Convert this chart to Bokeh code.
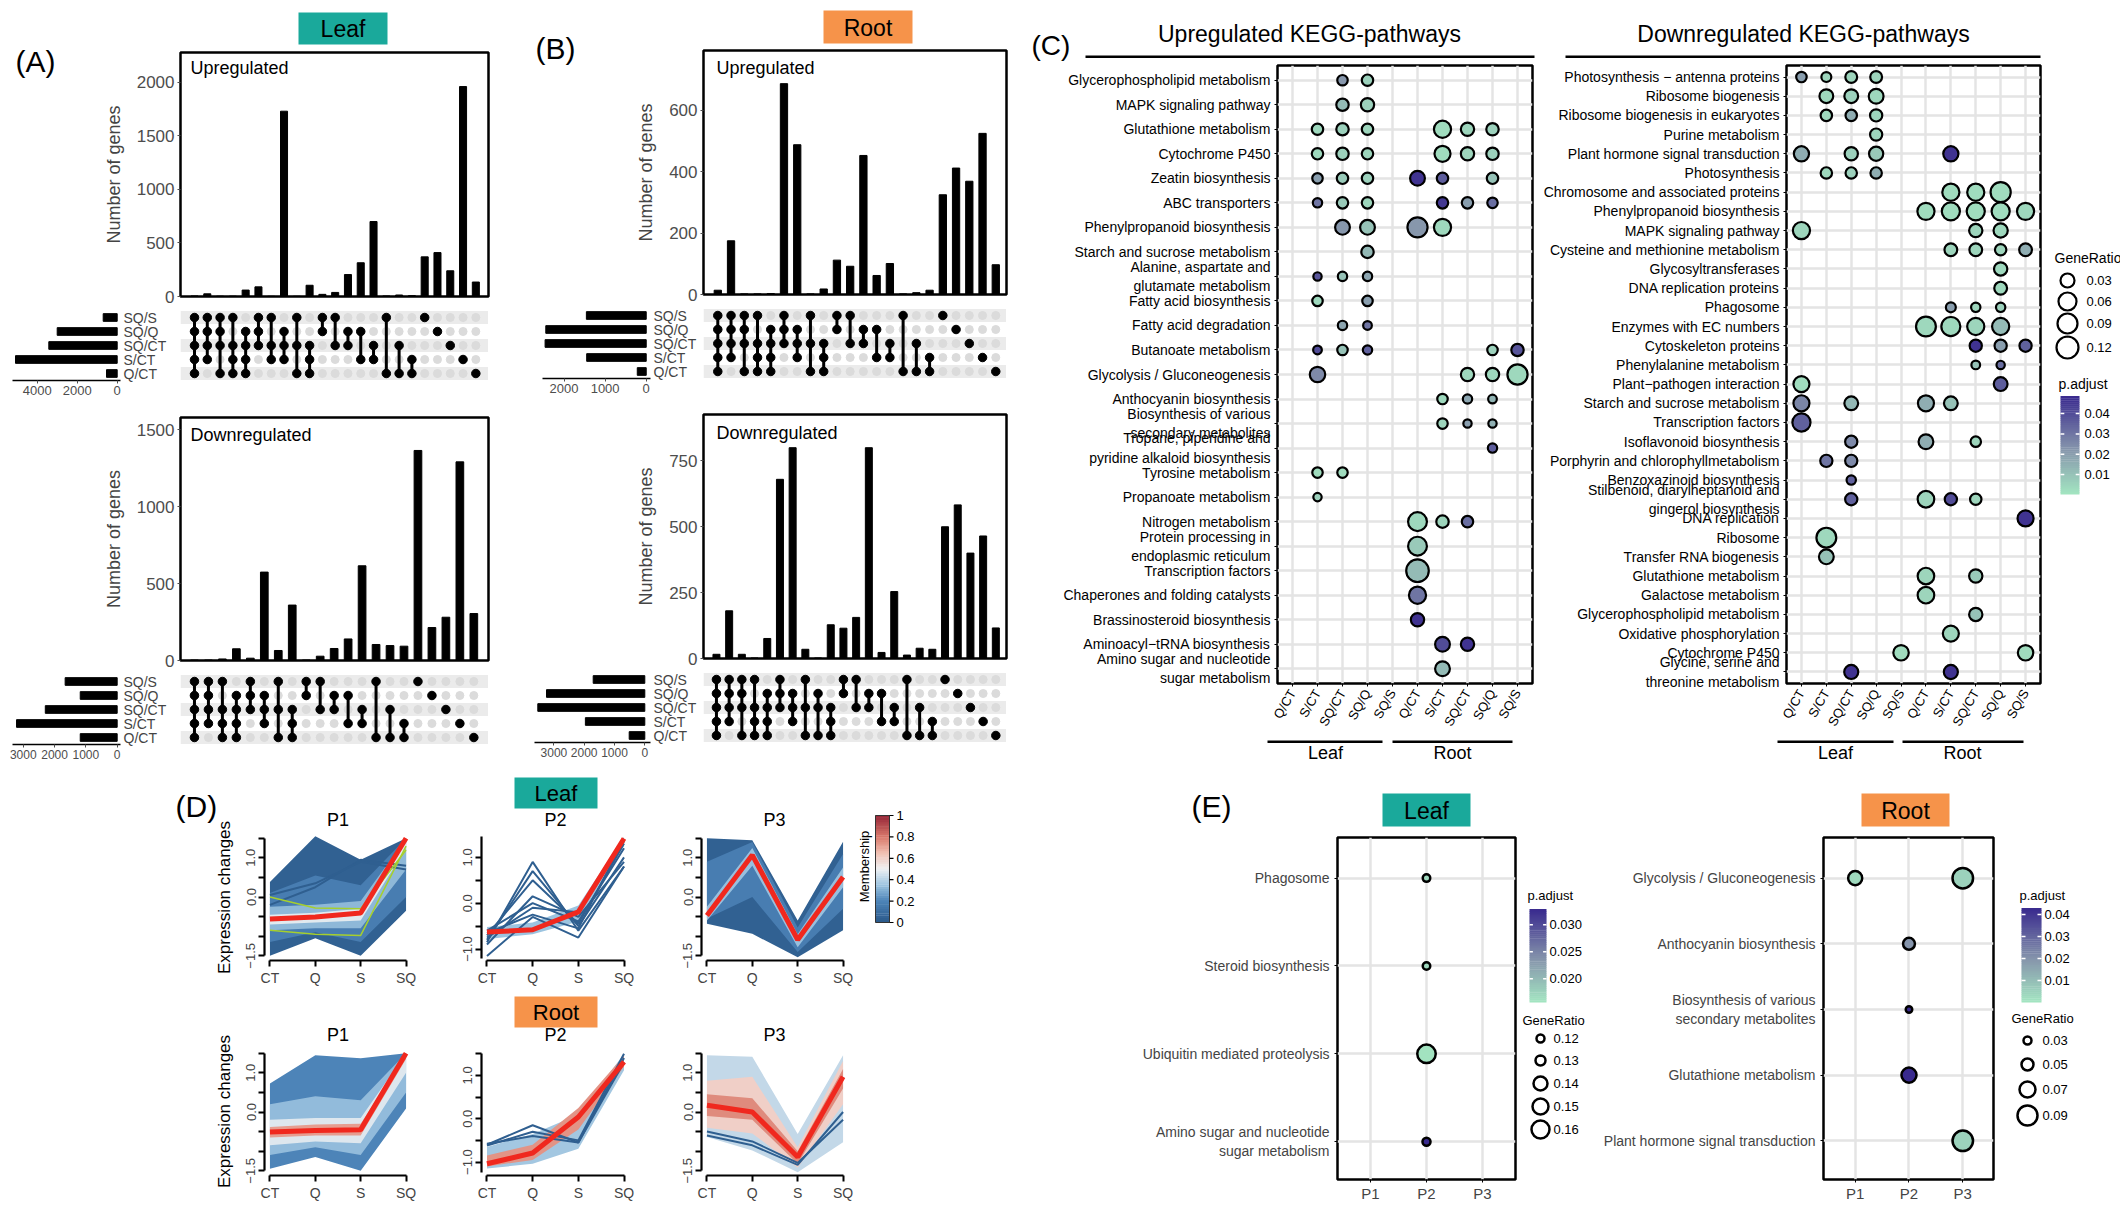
import math
import numpy as np
from bokeh.plotting import figure
from bokeh.models import (Range1d, FixedTicker, Label, BoxAnnotation, LinearColorMapper,
                          Spacer, ColumnDataSource)
from bokeh.layouts import row, column
from bokeh.embed import file_html
from bokeh.resources import INLINE

SANS = "Liberation Sans"
TEAL = "#1aa99b"
ORANGE = "#f6934a"

# ----------------------------- DATA -----------------------------
set_names = ["SQ/S", "SQ/Q", "SQ/CT", "S/CT", "Q/CT"]

leaf_up_counts = [5, 25, 3, 3, 60, 90, 2, 1730, 2, 105, 20, 38, 205, 315, 700, 5, 14, 8, 370, 410, 240, 1960, 135]
leaf_up_combos = [[0, 1, 2, 3, 4], [0, 1, 2, 3], [0, 1, 2, 4], [0, 2, 3, 4], [1, 2, 3, 4], [0, 1, 2], [0, 2, 3],
                  [1, 2, 3], [0, 2, 4], [2, 3, 4], [0, 1], [0, 2], [1, 2], [1, 3], [2, 3], [0, 4], [2, 4], [3, 4],
                  [0], [1], [2], [3], [4]]
leaf_up_sets = [700, 3000, 3420, 5085, 535]

leaf_down_counts = [3, 3, 10, 76, 15, 574, 65, 360, 3, 28, 78, 140, 615, 104, 97, 93, 1364, 214, 281, 1290, 305]
leaf_down_combos = [[0, 1, 2, 3, 4], [0, 1, 2, 3], [0, 2, 3, 4], [1, 2, 3, 4], [0, 1, 2], [1, 2, 3], [0, 2, 4],
                    [2, 3, 4], [0, 1], [0, 2], [1, 2], [1, 3], [2, 3], [0, 4], [2, 4], [3, 4],
                    [0], [1], [2], [3], [4]]
leaf_down_sets = [1662, 1180, 2296, 3215, 1180]

root_up_counts = [14, 175, 2, 2, 3, 687, 488, 2, 18, 112, 92, 453, 62, 101, 2, 6, 14, 325, 412, 369, 525, 97]
root_up_combos = [[0, 1, 2, 3, 4], [0, 1, 2, 3], [0, 1, 2, 4], [0, 2, 3, 4], [1, 2, 3, 4], [0, 1, 2], [1, 2, 3],
                  [0, 2, 4], [2, 3, 4], [0, 1], [0, 2], [1, 2], [1, 3], [2, 3], [0, 4], [2, 4], [3, 4],
                  [0], [1], [2], [3], [4]]
root_up_sets = [1456, 2444, 2461, 1449, 218]

root_down_counts = [16, 181, 16, 2, 76, 680, 800, 35, 2, 128, 115, 156, 800, 23, 254, 13, 39, 35, 500, 583, 400, 465, 116]
root_down_combos = [[0, 1, 2, 3, 4], [0, 1, 2, 3], [0, 1, 2, 4], [0, 2, 3, 4], [1, 2, 3, 4], [0, 1, 2], [1, 2, 3],
                    [0, 2, 4], [1, 2, 4], [2, 3, 4], [0, 1], [0, 2], [1, 2], [1, 3], [2, 3], [0, 4], [2, 4], [3, 4],
                    [0], [1], [2], [3], [4]]
root_down_sets = [1703, 3244, 3531, 1961, 515]

kegg_cmp = ["Q/CT", "S/CT", "SQ/CT", "SQ/Q", "SQ/S", "Q/CT", "S/CT", "SQ/CT", "SQ/Q", "SQ/S"]

up_pathways = ["Glycerophospholipid metabolism", "MAPK signaling pathway", "Glutathione metabolism",
               "Cytochrome P450", "Zeatin biosynthesis", "ABC transporters", "Phenylpropanoid biosynthesis",
               "Starch and sucrose metabolism", "Alanine, aspartate and\nglutamate metabolism",
               "Fatty acid biosynthesis", "Fatty acid degradation", "Butanoate metabolism",
               "Glycolysis / Gluconeogenesis", "Anthocyanin biosynthesis",
               "Biosynthesis of various\nsecondary metabolites", "Tropane, piperidine and\npyridine alkaloid biosynthesis",
               "Tyrosine metabolism", "Propanoate metabolism", "Nitrogen metabolism",
               "Protein processing in\nendoplasmic reticulum", "Transcription factors",
               "Chaperones and folding catalysts", "Brassinosteroid biosynthesis",
               "Aminoacyl\u2212tRNA biosynthesis", "Amino sugar and nucleotide\nsugar metabolism"]
up_row = [0, 0, 1, 1, 2, 2, 2, 2, 2, 2, 3, 3, 3, 3, 3, 3, 4, 4, 4, 4, 4, 4, 5, 5, 5, 5, 5, 5, 6, 6, 6, 6, 7,
          8, 8, 8, 9, 9, 10, 10, 11, 11, 11, 11, 11, 12, 12, 12, 12, 13, 13, 13, 14, 14, 14, 15, 16, 16, 17,
          18, 18, 18, 19, 20, 21, 22, 23, 23, 24]
up_col = [2, 3, 2, 3, 1, 2, 3, 6, 7, 8, 1, 2, 3, 6, 7, 8, 1, 2, 3, 5, 6, 8, 1, 2, 3, 6, 7, 8, 2, 3, 5, 6, 3,
          1, 2, 3, 1, 3, 2, 3, 1, 2, 3, 8, 9, 1, 7, 8, 9, 6, 7, 8, 6, 7, 8, 8, 1, 2, 1,
          5, 6, 7, 5, 5, 5, 5, 6, 7, 6]
up_ratio = [.016, .02, .025, .03, .02, .025, .02, .06, .03, .025, .02, .025, .02, .05, .03, .025,
            .016, .02, .02, .04, .02, .02, .012, .02, .02, .02, .02, .016, .04, .04, .094, .06, .025,
            .009, .012, .012, .016, .016, .012, .01, .01, .016, .012, .016, .025, .045, .03, .03, .094,
            .016, .012, .01, .016, .009, .009, .012, .016, .016, .009, .078, .025, .02, .078, .13, .06, .03,
            .04, .03, .04]
up_padj = [.022, .006, .012, .006, .004, .006, .005, .003, .005, .006, .004, .006, .005, .003, .005, .006,
           .02, .008, .006, .046, .036, .01, .03, .008, .005, .045, .02, .032, .022, .01, .022, .004, .013,
           .038, .01, .018, .004, .02, .018, .03, .04, .01, .035, .006, .038, .025, .004, .004, .004,
           .004, .018, .014, .005, .02, .015, .036, .003, .003, .006, .004, .005, .032, .008, .012, .03, .046,
           .04, .046, .012]

down_pathways = ["Photosynthesis \u2212 antenna proteins", "Ribosome biogenesis", "Ribosome biogenesis in eukaryotes",
                 "Purine metabolism", "Plant hormone signal transduction", "Photosynthesis",
                 "Chromosome and associated proteins", "Phenylpropanoid biosynthesis", "MAPK signaling pathway",
                 "Cysteine and methionine metabolism", "Glycosyltransferases", "DNA replication proteins",
                 "Phagosome", "Enzymes with EC numbers", "Cytoskeleton proteins", "Phenylalanine metabolism",
                 "Plant\u2212pathogen interaction", "Starch and sucrose metabolism", "Transcription factors",
                 "Isoflavonoid biosynthesis", "Porphyrin and chlorophyllmetabolism", "Benzoxazinoid biosynthesis",
                 "Stilbenoid, diarylheptanoid and\ngingerol biosynthesis", "DNA replication", "Ribosome",
                 "Transfer RNA biogenesis", "Glutathione metabolism", "Galactose metabolism",
                 "Glycerophospholipid metabolism", "Oxidative phosphorylation", "Cytochrome P450",
                 "Glycine, serine and\nthreonine metabolism"]
down_row = [0, 0, 0, 0, 1, 1, 1, 2, 2, 2, 3, 4, 4, 4, 4, 5, 5, 5, 6, 6, 6, 7, 7, 7, 7, 7, 8, 8, 8,
            9, 9, 9, 9, 10, 11, 12, 12, 12, 13, 13, 13, 13, 14, 14, 14, 15, 15, 16, 16, 17, 17, 17, 17, 18,
            19, 19, 19, 20, 20, 21, 22, 22, 22, 22, 23, 24, 25, 26, 26, 27, 28, 29, 30, 30, 31, 31]
down_col = [0, 1, 2, 3, 1, 2, 3, 1, 2, 3, 3, 0, 2, 3, 6, 1, 2, 3, 6, 7, 8, 5, 6, 7, 8, 9, 0, 7, 8,
            6, 7, 8, 9, 8, 8, 6, 7, 8, 5, 6, 7, 8, 7, 8, 9, 7, 8, 0, 8, 0, 2, 5, 6, 0,
            2, 5, 7, 1, 2, 2, 2, 5, 6, 7, 9, 1, 1, 5, 7, 5, 7, 6, 4, 9, 2, 6]
down_ratio = [.016, .014, .022, .022, .033, .033, .04, .02, .02, .024, .024, .043, .03, .036, .043,
              .02, .02, .02, .06, .06, .094, .06, .07, .07, .07, .06, .06, .03, .036,
              .027, .027, .02, .027, .03, .027, .014, .012, .012, .09, .08, .06, .06, .024, .024, .024,
              .01, .009, .05, .033, .05, .033, .05, .033, .07, .024, .04, .016, .024, .024, .012,
              .024, .055, .024, .02, .05, .09, .04, .055, .03, .055, .03, .05, .045, .045, .035, .035]
down_padj = [.02, .005, .005, .005, .004, .006, .004, .004, .016, .005, .005, .016, .006, .008, .046,
             .004, .006, .016, .003, .003, .003, .003, .003, .003, .003, .004, .005, .005, .004,
             .005, .005, .005, .016, .004, .004, .02, .005, .006, .004, .004, .005, .012, .046, .02, .035,
             .01, .032, .003, .036, .026, .013, .016, .01, .035, .025, .016, .005, .03, .025, .035,
             .035, .005, .04, .005, .046, .004, .01, .005, .008, .005, .01, .005, .003, .003, .046, .046]

gene_ratio_keys = [0.03, 0.06, 0.09, 0.12]
padj_keys = [0.01, 0.02, 0.03, 0.04]

time_points = ["CT", "Q", "S", "SQ"]
leaf_p1_bands = [([-1.5, -1.05, -1.5, -0.35], [0.38, 1.55, 0.95, 1.5], 0.04),
                 ([-1.15, -0.9, -1.15, 0.0], [0.1, 0.55, 0.3, 1.5], 0.17),
                 ([-0.85, -0.8, -0.8, 0.7], [-0.25, -0.2, -0.1, 1.5], 0.32),
                 ([-0.7, -0.65, -0.6, 1.25], [-0.45, -0.4, -0.3, 1.5], 0.48)]
leaf_p1_lines = [[-0.2, 0.25, 0.95, 0.8], [0.05, 0.35, 0.9, 0.7]]
leaf_p1_green = [[0.0, -0.28, -0.3, 1.2], [-0.85, -0.95, -0.98, 1.3]]
leaf_p1_center = [-0.56, -0.51, -0.41, 1.5]

leaf_p2_bands = [([-0.78, -0.68, -0.4, 1.25], [-0.52, -0.42, -0.05, 1.45], 0.35)]
leaf_p2_lines = [[-0.85, 0.9, -0.6, 0.8], [-0.8, 0.7, -0.5, 1.0], [-0.7, 0.5, -0.45, 1.3], [-0.9, 0.15, -0.3, 0.9],
                 [-0.6, 0.0, -0.4, 1.2], [-0.75, -0.1, -0.2, 1.35], [-1.15, -0.3, -0.75, 0.8],
                 [-0.65, -0.25, -0.55, 1.4]]
leaf_p2_center = [-0.63, -0.58, -0.19, 1.41]

leaf_p3_bands = [([-0.68, -0.94, -1.54, -0.85], [1.5, 1.45, -0.6, 1.41], 0.04),
                 ([-0.55, 0.0, -1.4, -0.3], [0.9, 1.4, -0.78, 1.1], 0.17),
                 ([-0.6, 0.8, -1.28, 0.25], [-0.25, 1.25, -0.95, 0.75], 0.34)]
leaf_p3_center = [-0.47, 1.07, -1.09, 0.51]

root_p1_bands = [([-1.45, -1.15, -1.5, 0.09], [0.73, 1.45, 1.37, 1.5], 0.2),
                 ([-1.1, -0.9, -1.1, 0.5], [0.2, 0.4, 0.3, 1.5], 0.33),
                 ([-0.85, -0.75, -0.8, 1.0], [-0.2, -0.15, -0.15, 1.5], 0.47),
                 ([-0.65, -0.6, -0.6, 1.35], [-0.38, -0.32, -0.3, 1.5], 0.72)]
root_p1_center = [-0.51, -0.47, -0.45, 1.5]

root_p2_bands = [([-1.15, -1.04, -0.69, 1.12], [-0.65, -0.35, 0.1, 1.5], 0.36),
                 ([-1.1, -0.95, -0.25, 1.2], [-0.85, -0.6, 0.25, 1.45], 0.74)]
root_p2_lines = [[-0.6, -0.15, -0.55, 1.4], [-0.62, -0.3, -0.5, 1.5], [-0.58, -0.4, -0.55, 1.3]]
root_p2_center = [-1.04, -0.79, 0.04, 1.31]

root_p3_bands = [([-0.64, -0.98, -1.54, -0.77], [1.45, 1.41, -0.56, 1.45], 0.42),
                 ([-0.4, -0.55, -1.42, 0.2], [0.8, 0.9, -0.9, 1.3], 0.6),
                 ([-0.1, -0.2, -1.32, 0.6], [0.45, 0.35, -1.0, 1.1], 0.76)]
root_p3_lines = [[-0.5, -0.75, -1.3, -0.2], [-0.6, -0.85, -1.35, 0.0]]
root_p3_center = [0.17, 0.0, -1.15, 0.9]

membership_ticks = [0, 0.2, 0.4, 0.6, 0.8, 1]
membership_labels = ["0", "0.2", "0.4", "0.6", "0.8", "1"]

e_leaf_pathways = ["Phagosome", "Steroid biosynthesis", "Ubiquitin mediated proteolysis",
                   "Amino sugar and nucleotide\nsugar metabolism"]
e_leaf_row = [1, 2, 3, 4]
e_leaf_col = [2, 2, 2, 2]
e_leaf_ratio = [0.12, 0.12, 0.16, 0.122]
e_leaf_padj = [0.017, 0.017, 0.016, 0.033]
e_leaf_ratio_keys = [0.12, 0.13, 0.14, 0.15, 0.16]
e_leaf_padj_keys = [0.020, 0.025, 0.030]

e_root_pathways = ["Glycolysis / Gluconeogenesis", "Anthocyanin biosynthesis",
                   "Biosynthesis of various\nsecondary metabolites", "Glutathione metabolism",
                   "Plant hormone signal transduction"]
e_root_row = [1, 1, 2, 3, 4, 5]
e_root_col = [1, 3, 2, 2, 2, 3]
e_root_ratio = [0.06, 0.09, 0.05, 0.025, 0.065, 0.09]
e_root_padj = [0.003, 0.005, 0.02, 0.045, 0.045, 0.005]
e_root_ratio_keys = [0.03, 0.05, 0.07, 0.09]
e_root_padj_keys = [0.01, 0.02, 0.03, 0.04]
patterns = ["P1", "P2", "P3"]

# ----------------------------- HELPERS -----------------------------
def hex2rgb(h):
    return [int(h[i:i + 2], 16) for i in (1, 3, 5)]


def ramp(anchors, n=256):
    pos = [a for a, _ in anchors]
    rgb = [hex2rgb(c) for _, c in anchors]
    out = []
    for t in np.linspace(0, 1, n):
        c = [int(round(np.interp(t, pos, [q[k] for q in rgb]))) for k in range(3)]
        out.append("#%02x%02x%02x" % tuple(c))
    return out


PADJ_PAL = ramp([(0, "#a3e6c1"), (0.45, "#8797ac"), (1, "#392a8e")])
MEM_PAL = ramp([(0, "#2a5889"), (0.2, "#4d84b8"), (0.35, "#9dc4e0"), (0.5, "#eef0f2"),
                (0.65, "#f1bfb1"), (0.8, "#d9786b"), (1, "#942436")])


def mem_color(m):
    return MEM_PAL[int(round(m * 255))]


ORG = {}


def mk(outer, frame, xr, yr, **kw):
    x0, y0, x1, y1 = outer
    fx0, fy0, fx1, fy1 = frame
    p = figure(width=x1 - x0, height=y1 - y0, x_range=xr, y_range=yr,
               min_border_left=fx0 - x0, min_border_right=x1 - fx1,
               min_border_top=fy0 - y0, min_border_bottom=y1 - fy1,
               toolbar_location=None, output_backend="svg", **kw)
    p.outline_line_color = None
    ORG[p.id] = (x0, y0)
    return p


def legfig(outer):
    x0, y0, x1, y1 = outer
    p = mk(outer, outer, Range1d(0, x1 - x0), Range1d(y1 - y0, 0),
           x_axis_location=None, y_axis_location=None)
    p.grid.visible = False
    return p


def txt(p, X, Y, s, size, align="left", base="middle", color="black", angle=0.0):
    x0, y0 = ORG[p.id]
    p.add_layout(Label(x=X - x0, y=Y - y0, x_units="canvas", y_units="canvas", text=s,
                       text_font=SANS, text_font_size=f"{size}px", text_align=align,
                       text_baseline=base, text_color=color, angle=angle))


def abox(p, X0, Y0, X1, Y1, fill, line=None, lw=1.0, radius=0):
    x0, y0 = ORG[p.id]
    p.add_layout(BoxAnnotation(left=X0 - x0, right=X1 - x0, top=Y0 - y0, bottom=Y1 - y0,
                               left_units="canvas", right_units="canvas",
                               top_units="canvas", bottom_units="canvas",
                               fill_color=fill, fill_alpha=1.0 if fill else 0.0,
                               line_color=line, line_alpha=1.0, line_width=lw, border_radius=int(radius)))


def key_circle(p, X, Y, total, lw):
    r = int(round((total - lw) / 2))
    abox(p, X - r, Y - r, X + r, Y + r, "white", line="black", lw=lw, radius=r)


def gradient(p, X0, Y0, X1, Y1, palette, low, high, ticks, labels, lab_x, size, outside=False):
    n = 48
    H = Y1 - Y0
    for i in range(n):
        vm = low + (i + 0.5) / n * (high - low)
        ci = int(round((vm - low) / (high - low) * (len(palette) - 1)))
        abox(p, X0, Y1 - (i + 1) / n * H - 0.4, X1, Y1 - i / n * H, palette[ci])

    def ym(v):
        return Y1 - (v - low) / (high - low) * H

    if outside:
        abox(p, X0, Y0, X1, Y1, None, line="#333333", lw=1)
        for t in ticks:
            abox(p, X1, ym(t) - 0.6, X1 + 4, ym(t) + 0.6, "black")
    else:
        w = (X1 - X0) / 5.0
        for t in ticks:
            abox(p, X0, ym(t) - 0.75, X0 + w, ym(t) + 0.75, "white")
            abox(p, X1 - w, ym(t) - 0.75, X1, ym(t) + 0.75, "white")
    for t, s in zip(ticks, labels):
        txt(p, lab_x, ym(t), s, size)


# ----------------------------- UPSET (A, B) -----------------------------
MAT_YR = (4.5, -0.643)


def upset(g, counts, combos, sizes, title):
    n = len(counts)
    xs = list(range(n))
    pb = mk(g["bars_outer"], g["bars_frame"], Range1d(*g["xr"]), Range1d(0, g["ymax"]), x_axis_location=None)
    pb.grid.visible = False
    pb.vbar(x=xs, top=counts, width=0.55, color="black")
    pb.outline_line_color = "black"
    pb.outline_line_width = 2.5
    ya = pb.yaxis[0]
    ya.ticker = FixedTicker(ticks=g["yticks"])
    ya.axis_line_color = None
    ya.major_tick_out = 3
    ya.major_tick_in = 0
    ya.major_tick_line_color = "#4d4d4d"
    ya.minor_tick_line_color = None
    ya.major_label_text_font = SANS
    ya.major_label_text_font_size = "17px"
    ya.major_label_text_color = "#4d4d4d"
    ya.major_label_standoff = 3
    ya.axis_label = "Number of genes"
    ya.axis_label_text_font = SANS
    ya.axis_label_text_font_size = "18px"
    ya.axis_label_text_font_style = "normal"
    ya.axis_label_standoff = 10
    txt(pb, g["title_pos"][0], g["title_pos"][1], title, 18)

    pm = mk(g["mat_outer"], g["mat_frame"], Range1d(*g["xr"]), Range1d(*MAT_YR), y_axis_location=None)
    pm.grid.visible = False
    mx = pm.xaxis[0]
    mx.ticker = FixedTicker(ticks=xs)
    mx.major_label_overrides = {i: "" for i in xs}
    mx.axis_line_color = None
    mx.major_tick_line_color = None
    mx.minor_tick_line_color = None
    mx.major_label_text_font_size = "1px"
    mx.major_label_standoff = 0
    for r in (0, 2, 4):
        pm.add_layout(BoxAnnotation(left=g["xr"][0], right=g["xr"][1], bottom=r - 0.46, top=r + 0.46,
                                    fill_color="#ebebeb", fill_alpha=1.0, line_color=None, level="underlay"))
    gx = [i for i in xs for r in range(5)]
    gy = [r for i in xs for r in range(5)]
    pm.scatter(gx, gy, size=8, color="#dbdbdb")
    sx, s0, s1, bx, by = [], [], [], [], []
    for i, c in enumerate(combos):
        if len(c) > 1:
            sx.append(i)
            s0.append(min(c))
            s1.append(max(c))
        for r in c:
            bx.append(i)
            by.append(r)
    pm.segment(x0=sx, y0=s0, x1=sx, y1=s1, line_width=3, color="black")
    pm.scatter(bx, by, size=8.5, color="black")

    ps = mk(g["sets_outer"], g["sets_frame"], Range1d(*g["set_xr"]), Range1d(*MAT_YR),
            y_axis_location="right")
    ps.grid.visible = False
    ps.hbar(y=list(range(5)), left=0, right=sizes, height=0.55, color="black")
    yr_ = ps.yaxis[0]
    yr_.ticker = FixedTicker(ticks=list(range(5)))
    yr_.major_label_overrides = {i: set_names[i] for i in range(5)}
    yr_.axis_line_color = None
    yr_.major_tick_line_color = None
    yr_.major_tick_out = 0
    yr_.major_tick_in = 0
    yr_.minor_tick_line_color = None
    yr_.major_label_text_font = SANS
    yr_.major_label_text_font_size = "14px"
    yr_.major_label_standoff = 3
    xa = ps.xaxis[0]
    xa.ticker = FixedTicker(ticks=g["set_ticks"])
    xa.axis_line_color = "black"
    xa.axis_line_width = 1.5
    xa.major_tick_out = 3
    xa.major_tick_in = 0
    xa.major_tick_line_color = "#4d4d4d"
    xa.minor_tick_line_color = None
    xa.major_label_text_font = SANS
    xa.major_label_text_font_size = g["set_font"]
    xa.major_label_text_color = "#4d4d4d"
    xa.major_label_standoff = 2
    return pb, pm, ps


gA_up = dict(bars_outer=(100, 50, 530, 308), bars_frame=(180, 52, 488, 296),
             sets_outer=(8, 308, 180, 400), sets_frame=(12, 308, 120, 380),
             mat_outer=(180, 308, 488, 400), mat_frame=(180, 308, 488, 380),
             xr=(-1.095, 22.99), ymax=2278, yticks=[0, 500, 1000, 1500, 2000],
             set_xr=(5235, -165), set_ticks=[0, 2000, 4000], set_font="13px", title_pos=(190, 67))
gA_dn = dict(bars_outer=(8, 400, 530, 672), bars_frame=(180, 417, 488, 660),
             sets_outer=(8, 672, 180, 764), sets_frame=(12, 672, 120, 744),
             mat_outer=(180, 672, 488, 764), mat_frame=(180, 672, 488, 744),
             xr=(-1.0, 21.05), ymax=1578, yticks=[0, 500, 1000, 1500],
             set_xr=(3344, -106), set_ticks=[0, 1000, 2000, 3000], set_font="12px", title_pos=(190, 434))
gB_up = dict(bars_outer=(600, 48, 1030, 306), bars_frame=(703, 50, 1006, 294),
             sets_outer=(530, 306, 703, 400), sets_frame=(542, 306, 650, 378),
             mat_outer=(703, 306, 1006, 400), mat_frame=(703, 306, 1006, 378),
             xr=(-1.08, 21.81), ymax=795, yticks=[0, 200, 400, 600],
             set_xr=(2524, -104), set_ticks=[0, 1000, 2000], set_font="13px", title_pos=(716, 67))
gB_dn = dict(bars_outer=(530, 400, 1030, 670), bars_frame=(703, 414, 1006, 658),
             sets_outer=(530, 670, 703, 764), sets_frame=(534, 670, 650, 742),
             mat_outer=(703, 670, 1006, 764), mat_frame=(703, 670, 1006, 742),
             xr=(-1.02, 22.84), ymax=926, yticks=[0, 250, 500, 750],
             set_xr=(3640, -188), set_ticks=[0, 1000, 2000, 3000], set_font="12px", title_pos=(716, 432))

aub, aum, aus = upset(gA_up, leaf_up_counts, leaf_up_combos, leaf_up_sets, "Upregulated")
adb, adm, ads = upset(gA_dn, leaf_down_counts, leaf_down_combos, leaf_down_sets, "Downregulated")
bub, bum, bus = upset(gB_up, root_up_counts, root_up_combos, root_up_sets, "Upregulated")
bdb, bdm, bds = upset(gB_dn, root_down_counts, root_down_combos, root_down_sets, "Downregulated")

sAL = legfig((8, 8, 100, 80))
txt(sAL, 15, 61, "(A)", 30)
sAT = legfig((100, 8, 530, 50))
abox(sAT, 298, 12, 387, 44, TEAL)
txt(sAT, 342.5, 28.5, "Leaf", 23, align="center")
sBL = legfig((530, 8, 600, 80))
txt(sBL, 535, 48, "(B)", 30)
sBT = legfig((600, 8, 1030, 48))
abox(sBT, 823, 10, 912, 43, ORANGE)
txt(sBT, 867.5, 27, "Root", 23, align="center")

colA = column(row(column(sAL, Spacer(width=92, height=228)), column(sAT, aub)),
              row(aus, aum, Spacer(width=42, height=92)),
              adb, row(ads, adm, Spacer(width=42, height=92)))
colB = column(row(column(sBL, Spacer(width=70, height=226)), column(sBT, bub)),
              row(bus, bum, Spacer(width=24, height=94)),
              bdb, row(bds, bdm, Spacer(width=24, height=94)))

# ----------------------------- KEGG (C) -----------------------------
P_LOW, P_HIGH = 0.0002, 0.0484
padj_mapper = LinearColorMapper(palette=PADJ_PAL, low=P_LOW, high=P_HIGH)


def sz_c(v):
    return 47.6 * v ** 0.32


def kegg(outer, frame, names, rows, cols, ratios, padj):
    n = len(names)
    p = mk(outer, frame, Range1d(-0.6, 9.6), Range1d(n - 0.4, -0.6))
    p.outline_line_color = "black"
    p.outline_line_width = 2.5
    p.xaxis.ticker = FixedTicker(ticks=list(range(10)))
    p.xaxis.major_label_overrides = {i: kegg_cmp[i] for i in range(10)}
    p.xaxis.major_label_orientation = math.pi / 3
    p.yaxis.ticker = FixedTicker(ticks=list(range(n)))
    p.yaxis.major_label_overrides = {i: names[i] for i in range(n)}
    for ax, fs in ((p.xaxis, "13px"), (p.yaxis, "14px")):
        ax.axis_line_color = None
        ax.major_tick_out = 3
        ax.major_tick_in = 0
        ax.major_tick_line_color = "black"
        ax.minor_tick_line_color = None
        ax.major_label_text_font = SANS
        ax.major_label_text_font_size = fs
        ax.major_label_text_color = "black"
        ax.major_label_standoff = 4
    p.grid.grid_line_color = "#e4e4e4"
    p.grid.grid_line_width = 2.5
    src = ColumnDataSource(dict(x=cols, y=rows, s=[sz_c(v) - 2.2 for v in ratios], c=padj))
    p.scatter("x", "y", size="s", source=src, fill_color={"field": "c", "transform": padj_mapper},
              line_color="black", line_width=2.2)
    return p


pc_up = kegg((1030, 63, 1540, 735), (1277, 65, 1532, 684), up_pathways, up_row, up_col, up_ratio, up_padj)
pc_dn = kegg((1540, 63, 2048, 735), (1785, 65, 2040, 684), down_pathways, down_row, down_col, down_ratio, down_padj)

sC = legfig((1030, 8, 2120, 63))
txt(sC, 1031, 45, "(C)", 28)
txt(sC, 1309, 33, "Upregulated KEGG-pathways", 23, align="center")
abox(sC, 1085, 55, 1534, 57.5, "black")
txt(sC, 1803, 33, "Downregulated KEGG-pathways", 23, align="center")
abox(sC, 1565, 55, 2040, 57.5, "black")

sCb = legfig((1030, 735, 2120, 764))
abox(sCb, 1267, 740, 1382, 742.5, "black")
abox(sCb, 1392, 740, 1512, 742.5, "black")
txt(sCb, 1325, 752, "Leaf", 18, align="center")
txt(sCb, 1452, 752, "Root", 18, align="center")
abox(sCb, 1777, 740, 1893, 742.5, "black")
abox(sCb, 1902, 740, 2023, 742.5, "black")
txt(sCb, 1835, 752, "Leaf", 18, align="center")
txt(sCb, 1962, 752, "Root", 18, align="center")

pc_leg = legfig((2048, 63, 2120, 735))
txt(pc_leg, 2054, 257, "GeneRatio", 14)
lg_y = [280, 301, 323, 347]
for v, yy in zip(gene_ratio_keys, lg_y):
    key_circle(pc_leg, 2067, yy, sz_c(v), 2.2)
    txt(pc_leg, 2086, yy, f"{v:.2f}", 13)
txt(pc_leg, 2058, 383, "p.adjust", 14)
gradient(pc_leg, 2060, 396, 2079, 494, PADJ_PAL, P_LOW, P_HIGH, padj_keys,
         [f"{v:.2f}" for v in padj_keys], 2084, 13)

colC = column(sC, row(pc_up, pc_dn, pc_leg), sCb)

# ----------------------------- MFUZZ (D) -----------------------------
def dfig(outer, frame, yr, yticks, ylabs, ybounds, bands, lines, center, green=()):
    p = mk(outer, frame, Range1d(0.88, 4.12), Range1d(*yr))
    p.grid.visible = False
    tx = list(range(1, 5))
    for lo, hi, m in bands:
        p.varea(x=tx, y1=lo, y2=hi, fill_color=mem_color(m), fill_alpha=1.0)
    for v in lines:
        p.line(tx, v, line_color=mem_color(0.03), line_width=2)
    for v in green:
        p.line(tx, v, line_color="#a6cf2d", line_width=1.5)
    p.line(tx, center, line_color="#f0281e", line_width=5)
    xa = p.xaxis[0]
    xa.ticker = FixedTicker(ticks=tx)
    xa.major_label_overrides = {i + 1: time_points[i] for i in range(4)}
    xa.bounds = (1, 4)
    ya = p.yaxis[0]
    ya.ticker = FixedTicker(ticks=yticks)
    ya.major_label_overrides = {t: ylabs.get(t, "") for t in yticks}
    ya.bounds = ybounds
    ya.major_label_orientation = "vertical"
    for ax, fs in ((xa, "14px"), (ya, "13px")):
        ax.axis_line_width = 2.2
        ax.major_tick_out = 6
        ax.major_tick_in = 0
        ax.major_tick_line_width = 2
        ax.minor_tick_line_color = None
        ax.major_label_text_font = SANS
        ax.major_label_text_font_size = fs
        ax.major_label_standoff = 3
    return p


T15 = [-1.5, -1, -0.5, 0, 0.5, 1, 1.5]
L15 = {-1.5: "\u22121.5", 0: "0.0", 1: "1.0"}
T10 = [-1, -0.5, 0, 0.5, 1]
T10b = [-1, -0.5, 0, 0.5, 1, 1.5]
L10 = {-1: "\u22121.0", 0: "0.0", 1: "1.0"}

dL1 = dfig((235, 831, 460, 990), (264, 833, 411, 960), (-1.62, 1.62), T15, L15, (-1.5, 1.5),
           leaf_p1_bands, leaf_p1_lines, leaf_p1_center, leaf_p1_green)
dL2 = dfig((460, 831, 680, 990), (481, 833, 629, 960), (-1.25, 1.52), T10, L10, (-1.2, 1.45),
           leaf_p2_bands, leaf_p2_lines, leaf_p2_center)
dL3 = dfig((680, 831, 855, 990), (700, 833, 848, 960), (-1.62, 1.62), T15, L15, (-1.5, 1.5),
           leaf_p3_bands, [], leaf_p3_center)
dR1 = dfig((235, 1046, 460, 1204), (264, 1048, 411, 1175), (-1.62, 1.62), T15, L15, (-1.5, 1.5),
           root_p1_bands, [], root_p1_center)
dR2 = dfig((460, 1046, 680, 1204), (481, 1048, 629, 1175), (-1.31, 1.62), T10b, L10, (-1.25, 1.5),
           root_p2_bands, root_p2_lines, root_p2_center)
dR3 = dfig((680, 1046, 855, 1204), (700, 1048, 848, 1175), (-1.62, 1.62), T15, L15, (-1.5, 1.5),
           root_p3_bands, root_p3_lines, root_p3_center)

sDL = legfig((170, 764, 235, 1204))
txt(sDL, 175, 806, "(D)", 30)
txt(sDL, 224, 897, "Expression changes", 17, align="center", angle=math.pi / 2)
txt(sDL, 224, 1111, "Expression changes", 17, align="center", angle=math.pi / 2)
sD1 = legfig((235, 764, 855, 831))
abox(sD1, 514, 777, 597, 808, TEAL)
txt(sD1, 555.5, 793, "Leaf", 22, align="center")
sD2 = legfig((235, 990, 855, 1046))
abox(sD2, 514, 996, 597, 1027, ORANGE)
txt(sD2, 555.5, 1012, "Root", 22, align="center")
for p_, yc in ((sD1, 819), (sD2, 1034)):
    for xc, s in ((337.5, "P1"), (555, "P2"), (774, "P3")):
        txt(p_, xc, yc, s, 18, align="center")

pcb = legfig((855, 764, 1060, 990))
gradient(pcb, 875, 815, 889, 922, MEM_PAL, 0.0, 1.0, membership_ticks, membership_labels, 896, 13, outside=True)
txt(pcb, 864, 866, "Membership", 13, align="center", angle=math.pi / 2)

colD = row(sDL, column(row(column(sD1, row(dL1, dL2, dL3)), pcb),
                       row(column(sD2, row(dR1, dR2, dR3)), Spacer(width=205, height=214))))

# ----------------------------- ENRICHMENT (E) -----------------------------
EL_LOW, EL_HIGH = 0.0156, 0.0328
ER_LOW, ER_HIGH = 0.0, 0.0427
e_leaf_mapper = LinearColorMapper(palette=PADJ_PAL, low=EL_LOW, high=EL_HIGH)
e_root_mapper = LinearColorMapper(palette=PADJ_PAL, low=ER_LOW, high=ER_HIGH)


def sz_el(v):
    return 10 + (v - 0.12) / 0.04 * 11


def sz_er(v):
    return 9 + (v - 0.025) / 0.065 * 14


def efig(outer, frame, names, yr, xr, rows, cols, ratios, padj, sfun, mapper):
    n = len(names)
    p = mk(outer, frame, Range1d(*xr), Range1d(*yr))
    p.outline_line_color = "black"
    p.outline_line_width = 2.5
    p.xaxis.ticker = FixedTicker(ticks=[1, 2, 3])
    p.xaxis.major_label_overrides = {i + 1: patterns[i] for i in range(3)}
    p.yaxis.ticker = FixedTicker(ticks=list(range(1, n + 1)))
    p.yaxis.major_label_overrides = {i + 1: names[i] for i in range(n)}
    for ax, fs, so in ((p.xaxis, "15px", 2), (p.yaxis, "14px", 5)):
        ax.axis_line_color = None
        ax.major_tick_out = 3
        ax.major_tick_in = 0
        ax.major_tick_line_color = "black"
        ax.minor_tick_line_color = None
        ax.major_label_text_font = SANS
        ax.major_label_text_font_size = fs
        ax.major_label_standoff = so
    p.grid.grid_line_color = "#e4e4e4"
    p.grid.grid_line_width = 2.5
    src = ColumnDataSource(dict(x=cols, y=rows, s=[sfun(v) - 2.5 for v in ratios], c=padj))
    p.scatter("x", "y", size="s", source=src, fill_color={"field": "c", "transform": mapper},
              line_color="black", line_width=2.5)
    return p


pe_leaf = efig((1060, 835, 1520, 1204), (1337, 837, 1515, 1182), e_leaf_pathways, (4.43, 0.538), (0.41, 3.59),
               e_leaf_row, e_leaf_col, e_leaf_ratio, e_leaf_padj, sz_el, e_leaf_mapper)
pe_root = efig((1600, 835, 1998, 1204), (1816, 837, 1993, 1182), e_root_pathways, (5.59, 0.381), (0.411, 3.571),
               e_root_row, e_root_col, e_root_ratio, e_root_padj, sz_er, e_root_mapper)

sE = legfig((1060, 764, 2120, 835))
txt(sE, 1191, 806, "(E)", 30)
abox(sE, 1382, 793, 1470, 826, TEAL)
txt(sE, 1426, 810, "Leaf", 23, align="center")
abox(sE, 1861, 793, 1949, 826, ORANGE)
txt(sE, 1905, 810, "Root", 23, align="center")

pe_leaf_leg = legfig((1520, 835, 1600, 1204))
txt(pe_leaf_leg, 1527, 895, "p.adjust", 13)
gradient(pe_leaf_leg, 1529, 909, 1546, 1002, PADJ_PAL, EL_LOW, EL_HIGH, e_leaf_padj_keys,
         [f"{v:.3f}" for v in e_leaf_padj_keys], 1549, 13)
txt(pe_leaf_leg, 1522, 1020, "GeneRatio", 13)
el_y = [1038, 1060, 1083, 1106, 1129]
for v, yy in zip(e_leaf_ratio_keys, el_y):
    key_circle(pe_leaf_leg, 1540, yy, sz_el(v), 2.5)
    txt(pe_leaf_leg, 1553, yy, f"{v:.2f}", 13)

pe_root_leg = legfig((1998, 835, 2120, 1204))
txt(pe_root_leg, 2019, 895, "p.adjust", 13)
gradient(pe_root_leg, 2021, 908, 2041, 1002, PADJ_PAL, ER_LOW, ER_HIGH, e_root_padj_keys,
         [f"{v:.2f}" for v in e_root_padj_keys], 2044, 13)
txt(pe_root_leg, 2011, 1018, "GeneRatio", 13)
er_y = [1040, 1064, 1089, 1115]
for v, yy in zip(e_root_ratio_keys, er_y):
    key_circle(pe_root_leg, 2027, yy, sz_er(v), 2.5)
    txt(pe_root_leg, 2042, yy, f"{v:.2f}", 13)

colE = column(sE, row(pe_leaf, pe_leaf_leg, pe_root, pe_root_leg))

# ----------------------------- LAYOUT -----------------------------
top = row(colA, colB, colC)
bottom = row(Spacer(width=162, height=440), colD, colE)
layout = column(Spacer(width=2120, height=8), row(Spacer(width=8, height=1196), column(top, bottom)))

open("out.html", "w").write(file_html(layout, INLINE))
